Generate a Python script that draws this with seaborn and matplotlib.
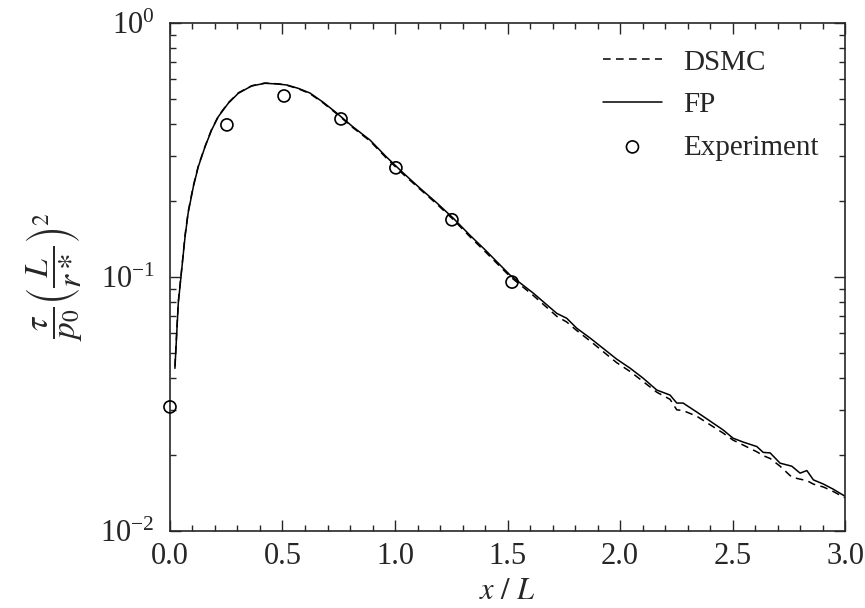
import matplotlib
matplotlib.use("Agg")
import matplotlib.pyplot as plt
import seaborn as sns
import pandas as pd
from matplotlib.ticker import MultipleLocator, LogLocator, NullFormatter, FormatStrFormatter

# Normalised wall shear stress along the plate
x_fp = [0.022, 0.037, 0.052, 0.067, 0.081, 0.104, 0.126, 0.156, 0.185, 0.215, 0.259, 0.304,
        0.363, 0.422, 0.481, 0.519, 0.570, 0.622, 0.680, 0.741, 0.810, 0.889, 0.960, 1.036,
        1.110, 1.185, 1.260, 1.333, 1.400, 1.511, 1.615, 1.719, 1.763, 1.808, 1.867, 1.985,
        2.044, 2.102, 2.163, 2.222, 2.252, 2.280, 2.341, 2.458, 2.502, 2.547, 2.608, 2.636,
        2.667, 2.711, 2.763, 2.800, 2.830, 2.859, 2.904, 2.948, 3.000]
tau_fp = [0.0437, 0.0790, 0.1066, 0.144, 0.179, 0.227, 0.272, 0.326, 0.379, 0.428, 0.483, 0.529,
          0.565, 0.579, 0.575, 0.570, 0.553, 0.530, 0.488, 0.442, 0.392, 0.346, 0.298, 0.257,
          0.224, 0.196, 0.170, 0.146, 0.128, 0.1018, 0.0863, 0.0719, 0.0688, 0.0628, 0.0575, 0.0475,
          0.0438, 0.0400, 0.0359, 0.0343, 0.0319, 0.0319, 0.0294, 0.0250, 0.0232, 0.0224, 0.0215, 0.0204,
          0.0203, 0.0185, 0.0180, 0.0169, 0.0173, 0.0159, 0.0153, 0.0146, 0.0137]

x_dsmc = [0.022, 0.037, 0.052, 0.067, 0.081, 0.104, 0.126, 0.156, 0.185, 0.215, 0.259, 0.304,
          0.363, 0.422, 0.481, 0.519, 0.570, 0.622, 0.680, 0.741, 0.810, 0.889, 0.960, 1.036,
          1.110, 1.185, 1.260, 1.333, 1.400, 1.511, 1.615, 1.719, 1.763, 1.808, 1.867, 1.985,
          2.044, 2.102, 2.163, 2.222, 2.252, 2.280, 2.341, 2.458, 2.502, 2.547, 2.608, 2.636,
          2.667, 2.711, 2.763, 2.800, 2.830, 2.859, 2.904, 2.948, 3.000]
tau_dsmc = [0.0445, 0.0800, 0.1075, 0.146, 0.181, 0.229, 0.274, 0.327, 0.381, 0.430, 0.485, 0.531,
            0.566, 0.580, 0.576, 0.569, 0.551, 0.527, 0.485, 0.439, 0.389, 0.343, 0.295, 0.254,
            0.222, 0.194, 0.168, 0.144, 0.126, 0.1005, 0.0845, 0.0700, 0.0665, 0.0615, 0.0560, 0.0460,
            0.0425, 0.0388, 0.0352, 0.0330, 0.0300, 0.0298, 0.0283, 0.0243, 0.0228, 0.0218, 0.0205, 0.0198,
            0.0193, 0.0180, 0.0163, 0.0160, 0.0158, 0.0153, 0.0149, 0.0143, 0.0135]

x_exp = [0.0, 0.253, 0.507, 0.76, 1.004, 1.253, 1.52]
tau_exp = [0.0308, 0.397, 0.516, 0.419, 0.269, 0.168, 0.0955]

df_fp = pd.DataFrame({"x": x_fp, "tau": tau_fp})
df_dsmc = pd.DataFrame({"x": x_dsmc, "tau": tau_dsmc})
df_exp = pd.DataFrame({"x": x_exp, "tau": tau_exp})

sns.set_style("ticks")
plt.rcParams.update({
    "font.family": "serif",
    "font.serif": ["Liberation Serif", "DejaVu Serif"],
    "mathtext.fontset": "stix",
    "axes.linewidth": 1.2,
})

fig = plt.figure(figsize=(8.65, 6.08), dpi=100)
ax = fig.add_axes([0.1965, 0.1266, 0.7805, 0.8356])

sns.lineplot(data=df_dsmc, x="x", y="tau", ax=ax, color="black", lw=1.1,
             linestyle=(0, (5, 3.5)), label="DSMC", sort=False)
sns.lineplot(data=df_fp, x="x", y="tau", ax=ax, color="black", lw=1.1, label="FP", sort=False)
sns.scatterplot(data=df_exp, x="x", y="tau", ax=ax, marker="o", s=75,
                facecolor="none", edgecolor="black", linewidth=1.2,
                label="Experiment", zorder=3, clip_on=False)

ax.set_yscale("log")
ax.set_xlim(0, 3)
ax.set_ylim(1e-2, 1e0)
ax.xaxis.set_major_locator(MultipleLocator(0.5))
ax.xaxis.set_minor_locator(MultipleLocator(0.1))
ax.xaxis.set_major_formatter(FormatStrFormatter("%.1f"))
ax.yaxis.set_major_locator(LogLocator(base=10, numticks=10))
ax.yaxis.set_minor_locator(LogLocator(base=10, subs=range(2, 10), numticks=10))
ax.yaxis.set_minor_formatter(NullFormatter())

ax.tick_params(which="both", direction="in", top=True, right=True, width=1.0)
ax.tick_params(which="major", length=8, labelsize=22)
ax.tick_params(axis="x", which="major", pad=8)
ax.tick_params(axis="y", which="major", pad=11)
ax.tick_params(which="minor", length=4.3)

ax.set_xlabel(r"$x\ /\ L$", fontsize=22, labelpad=4)
ax.set_ylabel(r"$\dfrac{\tau}{p_0}\left(\dfrac{L}{r*}\right)^2$", fontsize=24, labelpad=12)

leg = ax.legend(loc="upper right", frameon=False, fontsize=21, handlelength=2.05,
                labelspacing=0.55, handletextpad=0.72, borderpad=0.45, borderaxespad=0.45)

fig.savefig("out.png", dpi=100)
